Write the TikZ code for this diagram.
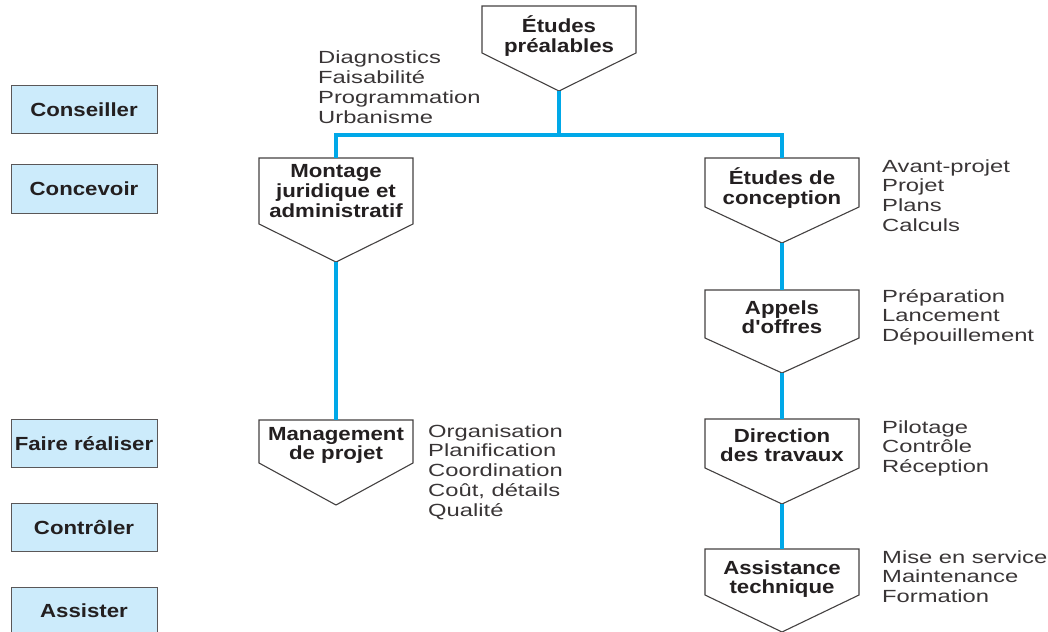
\documentclass[tikz,border=0pt]{standalone}
\usepackage{fontspec}
\setmainfont{Liberation Sans}
\newfontfamily\listfont{Liberation Sans}[FakeStretch=1.35]
\newfontfamily\boldfont{Liberation Sans}[FakeStretch=1.17]
\definecolor{linkblue}{RGB}{0,168,232}
\definecolor{rolefill}{RGB}{204,235,251}
\definecolor{ink}{RGB}{35,31,32}
\tikzset{
  conn/.style={draw=linkblue, line width=4pt},
  pentline/.style={draw=ink!85, line width=1.1pt, fill=white, line join=miter},
  boxtext/.style={inner sep=0pt, anchor=base, text=ink, font=\boldfont\bfseries\fontsize{19}{19.6}\selectfont},
  listtext/.style={inner sep=0pt, anchor=base west, text=ink!90, font=\listfont\fontsize{17.6}{19.8}\selectfont},
  rolebox/.style={draw=ink!75, line width=1pt, fill=rolefill, minimum width=146pt, minimum height=48pt,
    inner sep=0pt, text height=13.6pt, text depth=0pt, text=ink, font=\boldfont\bfseries\fontsize{19}{19.6}\selectfont},
}
% name, cx, top, rect height, tip height, baseline of first line, text
\newcommand\pentbox[7]{%
  \draw[pentline] (#2-77,#3) -- (#2+77,#3) -- (#2+77,#3+#4) -- (#2,#3+#4+#5) -- (#2-77,#3+#4) -- cycle;
  \coordinate (#1-top) at (#2,#3);
  \coordinate (#1-tip) at (#2,#3+#4+#5);
  \node[boxtext] (#1) at (#2,#6) {\begin{tabular}[t]{@{}c@{}}#7\end{tabular}};
}
\begin{document}
\begin{tikzpicture}[x=1pt,y=-1pt]
\useasboundingbox (0,0) rectangle (1048,631);

% role boxes
\node[rolebox] (conseiller) at (84,110) {Conseiller};
\node[rolebox] (concevoir) at (84,189) {Concevoir};
\node[rolebox] (faire) at (84,443.5) {Faire réaliser};
\node[rolebox] (controler) at (84,527.5) {Contrôler};
\node[rolebox] (assister) at (84,611) {Assister};

% junction of the tree
\coordinate (split) at (559,135);

% pentagon boxes (outline, coordinates, text)
\pentbox{pre}{559}{6}{47}{38}{33}{Études\\préalables}
\pentbox{mont}{336}{158}{66}{38}{178}{Montage\\juridique et\\administratif}
\pentbox{conc}{782}{158}{49}{36}{185}{Études de\\conception}
\pentbox{app}{782}{290}{48}{35}{314}{Appels\\d'offres}
\pentbox{mgmt}{336}{420}{43}{42}{440}{Management\\de projet}
\pentbox{dir}{782}{419}{49}{36}{442}{Direction\\des travaux}
\pentbox{asst}{782}{549}{46}{37}{574}{Assistance\\technique}

% connectors
\draw[conn] (pre-tip) -- (split);
\draw[conn] (split) -| (mont-top);
\draw[conn] (split) -| (conc-top);
\draw[conn] (mont-tip) -- (mgmt-top);
\draw[conn] (conc-tip) -- (app-top);
\draw[conn] (app-tip) -- (dir-top);
\draw[conn] (dir-tip) -- (asst-top);

% lists
\node[listtext] (l-pre) at (318,64) {\begin{tabular}[t]{@{}l@{}}Diagnostics\\Faisabilité\\Programmation\\Urbanisme\end{tabular}};
\node[listtext] (l-conc) at (882,172) {\begin{tabular}[t]{@{}l@{}}Avant-projet\\Projet\\Plans\\Calculs\end{tabular}};
\node[listtext] (l-app) at (882,302) {\begin{tabular}[t]{@{}l@{}}Préparation\\Lancement\\Dépouillement\end{tabular}};
\node[listtext] (l-mgmt) at (428,437) {\begin{tabular}[t]{@{}l@{}}Organisation\\Planification\\Coordination\\Coût, détails\\Qualité\end{tabular}};
\node[listtext] (l-dir) at (882,433) {\begin{tabular}[t]{@{}l@{}}Pilotage\\Contrôle\\Réception\end{tabular}};
\node[listtext] (l-asst) at (882,563) {\begin{tabular}[t]{@{}l@{}}Mise en service\\Maintenance\\Formation\end{tabular}};
\end{tikzpicture}
\end{document}
